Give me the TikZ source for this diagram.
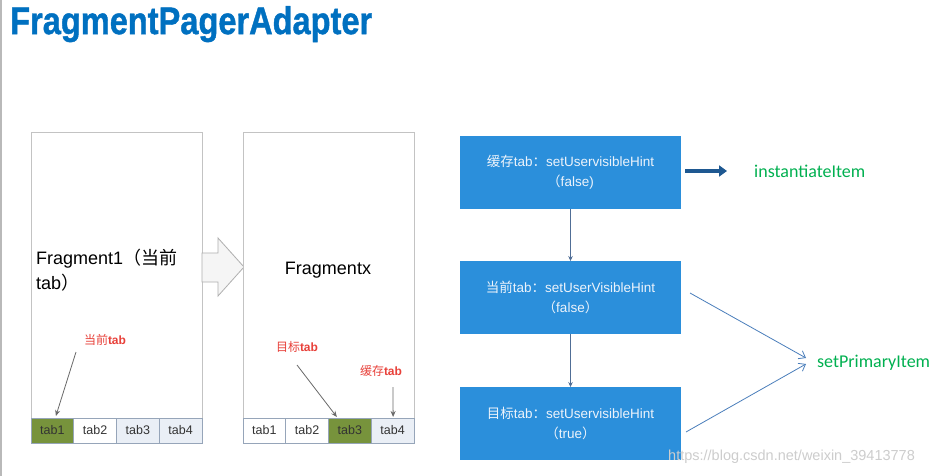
\documentclass[tikz,border=0pt]{standalone}
\usepackage{fontspec}
\setmainfont{Liberation Sans}
\newfontfamily\cjk{Noto Sans CJK SC}
\newfontfamily\calib{Carlito}
\newfontfamily\titlefont[FakeBold=1.2]{Liberation Sans Bold}
\usetikzlibrary{arrows.meta,calc}
\definecolor{titleblue}{RGB}{0,112,192}
\definecolor{boxblue}{RGB}{43,143,219}
\definecolor{framegray}{RGB}{195,195,195}
\definecolor{tabborder}{RGB}{150,165,185}
\definecolor{tabgreen}{RGB}{119,147,60}
\definecolor{tablight}{RGB}{234,239,246}
\definecolor{labred}{RGB}{232,65,58}
\definecolor{arrowgray}{RGB}{105,105,105}
\definecolor{thickblue}{RGB}{30,88,145}
\definecolor{linkblue}{RGB}{74,126,187}
\definecolor{vlinkblue}{RGB}{80,110,150}
\definecolor{textgreen}{RGB}{0,176,80}
\definecolor{boxtext}{RGB}{236,243,251}
\definecolor{marktext}{RGB}{205,205,205}
\begin{document}
\begin{tikzpicture}[x=1pt,y=-1pt,
  frame/.style={draw=framegray,line width=1,fill=white,minimum width=171,minimum height=310,anchor=north west,inner sep=0,outer sep=0},
  tabcell/.style={draw=tabborder,line width=0.8,minimum width=42.75,minimum height=25,anchor=north west,inner sep=0,outer sep=0,font=\fontsize{12.5}{14}\selectfont,text=black!80},
  redlab/.style={text=labred,font=\fontsize{12}{14}\selectfont\bfseries,inner sep=0},
  grayarrow/.style={draw=arrowgray,line width=0.8,-{Stealth[length=6,width=5]}},
  bbox/.style={fill=boxblue,minimum width=221,minimum height=72.5,inner sep=0,text=boxtext,align=center,font=\fontsize{13.5}{20}\selectfont},
  vlink/.style={draw=vlinkblue,line width=0.8,-{Stealth[length=5,width=4.5]}},
  greentext/.style={text=textgreen,font=\calib\fontsize{18}{20}\selectfont,inner sep=0,anchor=west},
  thinlink/.style={draw=linkblue,line width=0.8,-{Straight Barb[length=6,width=9]}}
]
\useasboundingbox (0,0) rectangle (951,476);
\fill[white] (0,0) rectangle (951,476);
\draw[gray!55,line width=1.5] (0.75,0) -- (0.75,476);
% title
\node[anchor=north west,inner sep=0,text=titleblue] (title) at (10,6)
  {\resizebox*{362pt}{36pt}{\titlefont FragmentPagerAdapter}};
% phone 1
\node[frame] (p1) at (31,133) {};
\node[tabcell,fill=tabgreen] (p1t1) at (31,418) {tab1};
\node[tabcell,fill=white] (p1t2) at (73.75,418) {tab2};
\node[tabcell,fill=tablight] (p1t3) at (116.5,418) {tab3};
\node[tabcell,fill=tablight] (p1t4) at (159.25,418) {tab4};
\node[anchor=north west,align=left,inner sep=0,font=\fontsize{18}{25}\selectfont] (f1) at (36,249)
  {Fragment1{\cjk （当前}\\tab{\cjk ）}};
\node[redlab] (l1) at (105,340) {{\cjk\mdseries 当前}tab};
\coordinate (l1s) at (76,352);
\draw[grayarrow] (l1s) -- ([xshift=3.5,yshift=2]p1t1.north);
% hollow arrow
\draw[draw=framegray!90!black,fill=gray!8,line width=0.8] (202,253) -- (218,253) -- (218,238) -- (244,267) -- (218,296) -- (218,282) -- (202,282) -- cycle;
% phone 2
\node[frame] (p2) at (243,133) {};
\node[tabcell,fill=white] (p2t1) at (243,418) {tab1};
\node[tabcell,fill=white] (p2t2) at (285.75,418) {tab2};
\node[tabcell,fill=tabgreen] (p2t3) at (328.5,418) {tab3};
\node[tabcell,fill=tablight] (p2t4) at (371.25,418) {tab4};
\node[inner sep=0,font=\fontsize{18}{22}\selectfont] (fx) at (328,270) {Fragmentx};
\node[redlab] (l2) at (297,347) {{\cjk\mdseries 目标}tab};
\coordinate (l2s) at (297,365);
\draw[grayarrow] (l2s) -- ([xshift=-13,yshift=1]p2t3.north);
\node[redlab] (l3) at (381,371) {{\cjk\mdseries 缓存}tab};
\coordinate (l3s) at (393,387);
\draw[grayarrow] (l3s) -- ([xshift=0.5,yshift=1]p2t4.north);
% blue boxes
\node[bbox] (b1) at (570.5,172.5) {{\cjk 缓存}tab{\cjk ：}setUservisibleHint\\{\cjk （}false)};
\node[bbox] (b2) at (570.5,297.5) {{\cjk 当前}tab{\cjk ：}setUserVisibleHint\\{\cjk （}false{\cjk ）}};
\node[bbox] (b3) at (570.5,423.5) {{\cjk 目标}tab{\cjk ：}setUservisibleHint\\{\cjk （}true{\cjk ）}};
\draw[vlink] (b1) -- (b2);
\draw[vlink] (b2) -- (b3);
% right labels
\node[greentext] (inst) at (754,171) {instantiateItem};
\node[greentext] (prim) at (817,363) {setPrimaryItem};
\draw[draw=thickblue,line width=4.5,-{Triangle[length=8,width=11]}] ($(b1.east |- inst.west)+(4,0)$) -- ($(inst.west)+(-27,0)$);
\coordinate (s2) at (690,293);
\coordinate (s3) at (686,432);
\draw[thinlink] (s2) -- ([xshift=-11,yshift=5]prim.west);
\draw[thinlink] (s3) -- ([xshift=-11,yshift=-1]prim.west);
% watermark
\node[anchor=west,inner sep=0,text=marktext,font=\fontsize{14.5}{16}\selectfont] (wm) at (668,457) {https://blog.csdn.net/weixin\_39413778};
\end{tikzpicture}
\end{document}
